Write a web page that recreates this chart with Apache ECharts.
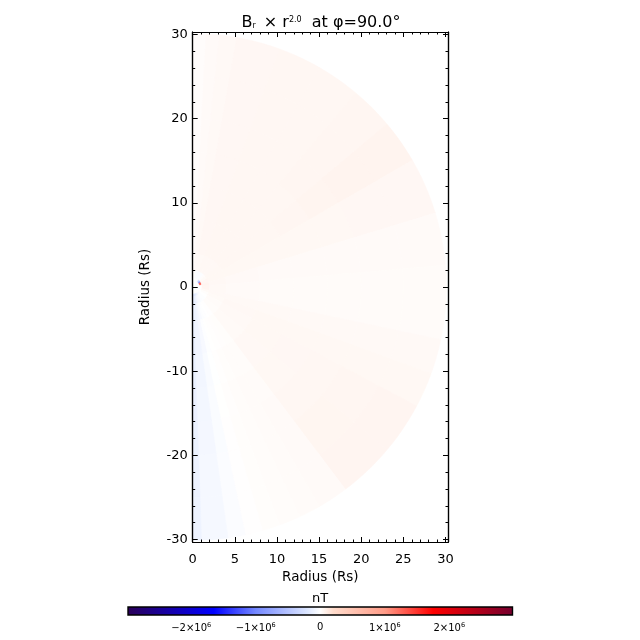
<!DOCTYPE html>
<html>
<head>
<meta charset="utf-8">
<style>html,body{margin:0;padding:0;background:#fff}</style>
<script src="https://cdn.jsdelivr.net/npm/echarts@6/dist/echarts.min.js"></script>
</head>
<body>
<div id="main" style="width:640px;height:640px"></div>
<script>
// polar cells: colatitude edges (deg), radius edges (Rs)
const thetaEdges = [0, 3, 6, 10, 20, 30, 40, 50, 60, 73, 85, 102, 110, 118, 130, 143, 150, 155, 160, 164, 168, 172, 178, 180];
const radiusEdges = [0.85, 1.1, 2, 4, 8, 12, 16, 20, 25, 30.1];
// values in 10^3 nT, one row per theta band, one column per radius band
const cellValues = [
  [0, 10, 15, 16, 16, 16, 16, 16, 16],
  [0, 20, 25, 28, 28, 28, 28, 28, 28],
  [0, 25, 32, 36, 36, 36, 36, 36, 36],
  [0, -15, 36, 44, 44, 44, 44, 44, 44],
  [0, -25, 38, 46, 46, 46, 46, 46, 46],
  [0, -15, 40, 46, 46, 46, 46, 46, 46],
  [-300, 15, 40, 46, 46, 48, 50, 50, 50],
  [-900, 30, 42, 46, 48, 52, 60, 62, 62],
  [1300, 45, 42, 42, 42, 42, 42, 44, 44],
  [0, 55, 38, 32, 28, 26, 26, 26, 26],
  [0, 50, 36, 28, 24, 22, 22, 22, 22],
  [0, 30, 34, 36, 36, 36, 36, 36, 36],
  [0, 10, 30, 38, 42, 42, 42, 42, 42],
  [0, 0, 24, 36, 42, 44, 46, 52, 56],
  [-30, -10, 18, 30, 38, 42, 46, 54, 56],
  [-60, -20, 4, 14, 20, 24, 26, 26, 26],
  [-90, -30, 0, 12, 18, 22, 24, 24, 24],
  [-120, -40, -8, 6, 14, 18, 20, 20, 20],
  [-150, -60, -20, 2, 8, 12, 14, 14, 14],
  [-160, -80, -40, -12, -4, 2, 3, 3, 3],
  [-170, -110, -70, -45, -35, -28, -26, -25, -22],
  [-170, -130, -100, -80, -72, -66, -62, -60, -58],
  [-170, -150, -130, -120, -115, -110, -108, -105, -100]
];
// colour bar
const cmapValues = [-2980, -1650, -1000, -200, 0, 200, 1000, 1750, 2980];
const cmapColors = ['#2a0058', '#0000ff', '#7488ff', '#dce6ff', '#ffffff', '#ffdccc', '#ff9c88', '#ff0000', '#76002e'];
const barTicks = [-2000, -1000, 0, 1000, 2000];

const xMajor = [0, 5, 10, 15, 20, 25, 30];
const xMinor = [1, 2, 3, 4, 6, 7, 8, 9, 11, 12, 13, 14, 16, 17, 18, 19, 21, 22, 23, 24, 26, 27, 28, 29];
const yMajor = [-30, -20, -10, 0, 10, 20, 30];
const yMinor = [-28, -26, -24, -22, -18, -16, -14, -12, -8, -6, -4, -2, 2, 4, 6, 8, 12, 14, 16, 18, 22, 24, 26, 28];

const FONT = '"DejaVu Sans"';

function colorAt(v) {
  if (v <= cmapValues[0]) return cmapColors[0];
  for (let i = 1; i < cmapValues.length; i++) {
    if (v <= cmapValues[i]) {
      const t = (v - cmapValues[i - 1]) / (cmapValues[i] - cmapValues[i - 1]);
      return echarts.color.lerp(t, [cmapColors[i - 1], cmapColors[i]]);
    }
  }
  return cmapColors[cmapColors.length - 1];
}

const cells = [];
cellValues.forEach((row, i) => {
  row.forEach((v, j) => {
    if (v !== 0) cells.push([i, j, v]);
  });
});

function toXY(r, deg) {
  const a = deg * Math.PI / 180;
  return [r * Math.sin(a), r * Math.cos(a)];
}

function renderCell(params, api) {
  const i = api.value(0), j = api.value(1), v = api.value(2);
  const t0 = thetaEdges[i], t1 = thetaEdges[i + 1];
  const r0 = radiusEdges[j], r1 = radiusEdges[j + 1];
  const pts = [];
  const steps = Math.ceil((t1 - t0) / 2);
  for (let k = 0; k <= steps; k++) pts.push(api.coord(toXY(r1, t0 + (t1 - t0) * k / steps)));
  for (let k = steps; k >= 0; k--) pts.push(api.coord(toXY(r0, t0 + (t1 - t0) * k / steps)));
  const c = colorAt(v);
  return {
    type: 'polygon',
    shape: {points: pts},
    style: {fill: c, stroke: c, lineWidth: 0.6}
  };
}

function renderBar(params, api) {
  const a = api.coord([api.value(0), 0]);
  const b = api.coord([api.value(1), 1]);
  const lo = cmapValues[0], hi = cmapValues[cmapValues.length - 1];
  return {
    type: 'rect',
    shape: {x: a[0], y: b[1], width: b[0] - a[0], height: a[1] - b[1]},
    style: {
      fill: new echarts.graphic.LinearGradient(0, 0, 1, 0, cmapValues.map((v, i) => ({
        offset: (v - lo) / (hi - lo),
        color: cmapColors[i]
      })))
    }
  };
}

function barLabel(v) {
  if (v === 0) return '0';
  const n = v / 1000;
  return (n < 0 ? '\u2212' : '') + Math.abs(n) + '\u00d710{s|6}';
}

const frame = {
  z: 5,
  axisLine: {show: true, onZero: false, lineStyle: {color: '#000', width: 1.2}},
  splitLine: {show: false},
  axisLabel: {show: false}
};
const tickStyle = {color: '#000', width: 1};

function xAx(position, ticks, len, labels) {
  return Object.assign({}, frame, {
    gridIndex: 0, type: 'value', position, min: 0, max: 30.3,
    axisTick: {show: true, inside: true, length: len, lineStyle: tickStyle, customValues: ticks},
    axisLabel: labels ? {show: true, customValues: ticks, color: '#000', fontFamily: FONT, fontSize: 13, margin: 11, hideOverlap: false, showMaxLabel: true, showMinLabel: true} : {show: false}
  });
}
function yAx(position, ticks, len, labels) {
  return Object.assign({}, frame, {
    gridIndex: 0, type: 'value', position, min: -30.3, max: 30.3,
    axisTick: {show: true, inside: true, length: len, lineStyle: tickStyle, customValues: ticks},
    axisLabel: labels ? {show: true, customValues: ticks, color: '#000', fontFamily: FONT, fontSize: 13, margin: 5, hideOverlap: false, showMaxLabel: true, showMinLabel: true} : {show: false}
  });
}

const myChart = echarts.init(document.getElementById('main'), null, {renderer: 'canvas'});

const option = {
  animation: false,
  backgroundColor: '#fff',
  title: [
    {
      text: '{n|B}{b|r}{n| \u00d7 r}{p|2.0}{n|  at \u03c6=90.0\u00b0}',
      left: 316, top: 10, textAlign: 'center',
      textStyle: {
        fontFamily: FONT, fontWeight: 'normal', color: '#000',
        rich: {
          n: {fontFamily: FONT, fontSize: 16, color: '#000'},
          b: {fontFamily: FONT, fontSize: 8, color: '#000', padding: [6, 3, 0, 0]},
          p: {fontFamily: FONT, fontSize: 8, color: '#000', padding: [0, 0, 7, 0]}
        }
      }
    },
    {
      text: 'nT',
      left: 315, top: 587, textAlign: 'center',
      textStyle: {fontFamily: FONT, fontWeight: 'normal', fontSize: 13, color: '#000'}
    }
  ],
  grid: [
    {left: 192.7, top: 32, width: 255.3, height: 510},
    {left: 128, top: 607, width: 384.5, height: 8, show: true, borderColor: '#000', borderWidth: 1.4, z: 5}
  ],
  xAxis: [
    Object.assign(xAx('bottom', xMajor, 5, true), {
      name: 'Radius (Rs)', nameLocation: 'middle', nameGap: 25,
      nameTextStyle: {fontFamily: FONT, fontSize: 13.5, color: '#000'}
    }),
    xAx('bottom', xMinor, 2.5, false),
    xAx('top', xMajor, 5, false),
    xAx('top', xMinor, 2.5, false),
    {
      gridIndex: 1, type: 'value', position: 'bottom', min: -2980, max: 2980,
      splitLine: {show: false},
      axisLine: {show: false},
      axisTick: {show: true, inside: true, length: 3, lineStyle: tickStyle, customValues: barTicks},
      axisLabel: {
        show: true, customValues: barTicks, margin: 7, color: '#000', fontFamily: FONT, fontSize: 10,
        formatter: barLabel,
        rich: {s: {fontFamily: FONT, fontSize: 6.5, color: '#000', padding: [0, 0, 6, 0]}}
      }
    }
  ],
  yAxis: [
    Object.assign(yAx('left', yMajor, 5, true), {
      name: 'Radius (Rs)', nameLocation: 'middle', nameGap: 40, nameRotate: 90,
      nameTextStyle: {fontFamily: FONT, fontSize: 13.5, color: '#000'}
    }),
    yAx('left', yMinor, 2.5, false),
    yAx('right', yMajor, 5, false),
    yAx('right', yMinor, 2.5, false),
    {gridIndex: 1, type: 'value', min: 0, max: 1, show: false}
  ],
  series: [
    {
      type: 'custom',
      z: 1,
      xAxisIndex: 0, yAxisIndex: 0,
      renderItem: renderCell,
      clip: true,
      silent: true,
      encode: {x: -1, y: -1},
      data: cells
    },
    {
      type: 'custom',
      xAxisIndex: 4, yAxisIndex: 4,
      renderItem: renderBar,
      silent: true,
      encode: {x: [0, 1], y: -1},
      data: [[cmapValues[0], cmapValues[cmapValues.length - 1]]]
    }
  ]
};

myChart.setOption(option);
</script>
</body>
</html>
